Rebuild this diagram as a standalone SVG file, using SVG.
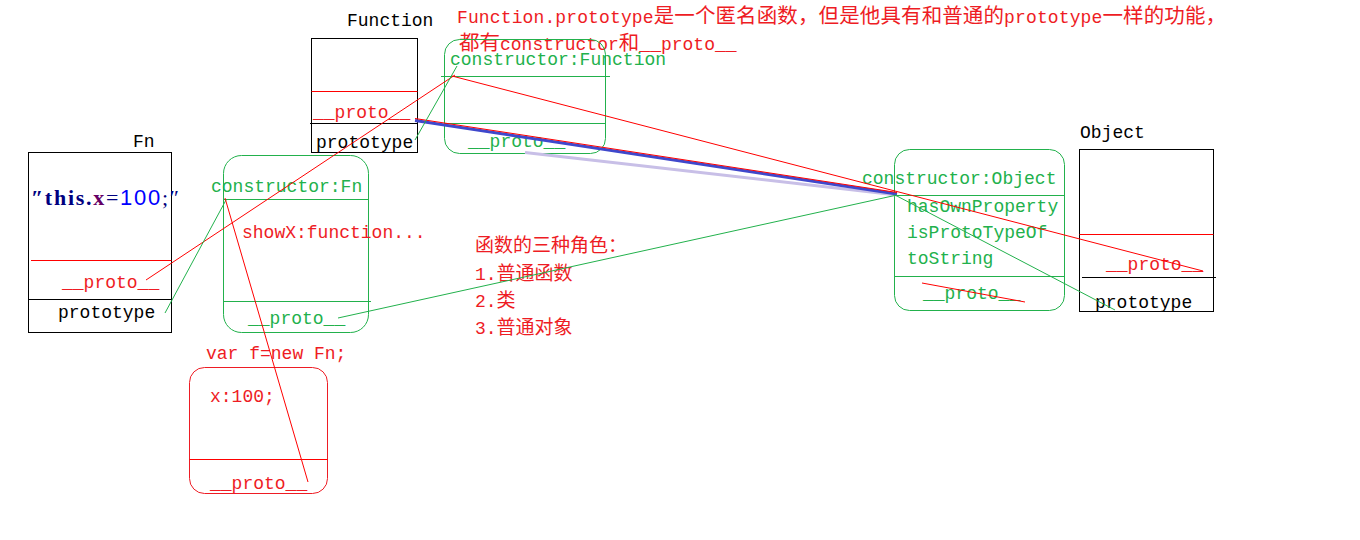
<svg xmlns="http://www.w3.org/2000/svg" width="1360" height="540" viewBox="0 0 1360 540">
<style>
text{font-family:"Liberation Mono","Noto Sans CJK SC",monospace;font-size:18px}
.k{fill:#000}
.r{fill:#ee1c24}
.g{fill:#22b14c}
.cjk{font-family:"Noto Sans CJK SC","Liberation Sans",sans-serif}
.mid{font-size:19px}
.box{fill:none;stroke:#000;stroke-width:1}
.gbox{fill:none;stroke:#22b14c;stroke-width:1}
.rbox{fill:none;stroke:#ee1c24;stroke-width:1}
.rl{stroke:#ff0000;stroke-width:1;fill:none}
.gl{stroke:#22b14c;stroke-width:1;fill:none}
.kl{stroke:#000;stroke-width:1;fill:none}
</style>
<rect width="1360" height="540" fill="#fff"/>

<g id="notes">
<text class="r" x="457" y="23" textLength="769" lengthAdjust="spacing">Function.prototype<tspan class="cjk" font-size="20.5">是一个匿名函数，但是他具有和普通的</tspan>prototype<tspan class="cjk" font-size="20.5">一样的功能，</tspan></text>
<text class="r" x="459" y="50"><tspan class="cjk" font-size="20.5">都有</tspan>constructor<tspan class="cjk" font-size="20.5">和</tspan>__proto__</text>
<text class="r cjk mid" x="475" y="252">函数的三种角色：</text>
<text class="r" x="475" y="280">1.<tspan class="cjk mid">普通函数</tspan></text>
<text class="r" x="475" y="307">2.<tspan class="cjk mid">类</tspan></text>
<text class="r" x="475" y="334">3.<tspan class="cjk mid">普通对象</tspan></text>
</g>

<g id="Function">
<text class="k" x="347" y="26">Function</text>
<rect class="box" x="311.5" y="38.5" width="106" height="114"/>
<line class="rl" x1="311.5" y1="91.5" x2="417.5" y2="91.5"/>
<line class="kl" x1="310" y1="123.5" x2="417.5" y2="123.5"/>
<text class="r" x="313" y="118">__proto__</text>
<text class="k" x="316" y="148">prototype</text>
</g>

<g id="FunctionPrototype">
<rect class="gbox" x="444.5" y="39.5" width="161" height="114" rx="15"/>
<line class="gl" x1="441" y1="76.5" x2="610" y2="76.5"/>
<line class="gl" x1="444.5" y1="123.5" x2="605.5" y2="123.5"/>
<text class="g" x="450" y="65">constructor:Function</text>
<text class="g" x="468" y="147">__proto__</text>
</g>

<g id="Fn">
<text class="k" x="133" y="147">Fn</text>
<rect class="box" x="28.5" y="152.5" width="143" height="180"/>
<text x="31" y="205" textLength="148" lengthAdjust="spacing" style="font-family:'Liberation Serif',serif;font-size:22px"><tspan fill="#000080" font-weight="bold">″this.</tspan><tspan fill="#660066" font-weight="bold">x</tspan><tspan fill="#000080">=</tspan><tspan fill="#0000ff" style="font-family:'Liberation Sans',sans-serif">100</tspan><tspan fill="#000080">;″</tspan></text>
<line class="rl" x1="31" y1="260.5" x2="171.5" y2="260.5"/>
<line class="kl" x1="28.5" y1="299.5" x2="171.5" y2="299.5"/>
<text class="r" x="62" y="288">__proto__</text>
<text class="k" x="58" y="318">prototype</text>
</g>

<g id="FnPrototype">
<rect class="gbox" x="223.5" y="155.5" width="145" height="177" rx="18"/>
<line class="gl" x1="223.5" y1="199.5" x2="368.5" y2="199.5"/>
<line class="gl" x1="223.5" y1="301.5" x2="371" y2="301.5"/>
<text class="g" x="211" y="192">constructor:Fn</text>
<text class="r" x="242" y="238">showX:function...</text>
<text class="g" x="248" y="324">__proto__</text>
</g>

<g id="f">
<text class="r" x="206" y="359">var f=new Fn;</text>
<rect class="rbox" x="189.5" y="367.5" width="138" height="126" rx="15"/>
<line class="rl" x1="189.5" y1="459.5" x2="327.5" y2="459.5"/>
<text class="r" x="210" y="402">x:100;</text>
<text class="r" x="210" y="489">__proto__</text>
</g>

<g id="ObjectPrototype">
<rect class="gbox" x="894.5" y="149.5" width="170" height="161" rx="15"/>
<line class="gl" x1="894.5" y1="195.5" x2="1064.5" y2="195.5"/>
<line class="gl" x1="894.5" y1="276.5" x2="1064.5" y2="276.5"/>
<text class="g" x="862" y="184">constructor:Object</text>
<text class="g" x="907" y="212">hasOwnProperty</text>
<text class="g" x="907" y="238">isProtoTypeOf</text>
<text class="g" x="907" y="264">toString</text>
<text class="g" x="923" y="299">__proto__</text>
</g>

<g id="Object">
<text class="k" x="1080" y="138">Object</text>
<rect class="box" x="1079.5" y="149.5" width="134" height="162"/>
<line class="rl" x1="1079.5" y1="234.5" x2="1213.5" y2="234.5"/>
<line class="kl" x1="1082" y1="277.5" x2="1216" y2="277.5"/>
<text class="r" x="1106" y="270">__proto__</text>
<text class="k" x="1095" y="308">prototype</text>
</g>

<g id="connectors">
<line stroke="#c8bfe7" stroke-width="3" x1="525" y1="152.5" x2="897" y2="195"/>
<line stroke="#3f48cc" stroke-width="3" x1="415" y1="120.5" x2="897" y2="194"/>
<line class="rl" x1="415" y1="118.5" x2="897" y2="192.5"/>
<line class="rl" x1="146" y1="280" x2="455" y2="75"/>
<line class="rl" x1="452" y1="76" x2="1203" y2="271"/>
<line class="gl" x1="415" y1="140" x2="457" y2="66"/>
<line class="gl" x1="338" y1="318" x2="897" y2="195"/>
<line class="gl" x1="895" y1="195" x2="1115" y2="310"/>
<line class="rl" x1="922" y1="283" x2="1025" y2="302"/>
<line class="gl" x1="165" y1="313" x2="226" y2="200"/>
<line class="rl" x1="225" y1="198" x2="308" y2="482"/>
</g>
</svg>
